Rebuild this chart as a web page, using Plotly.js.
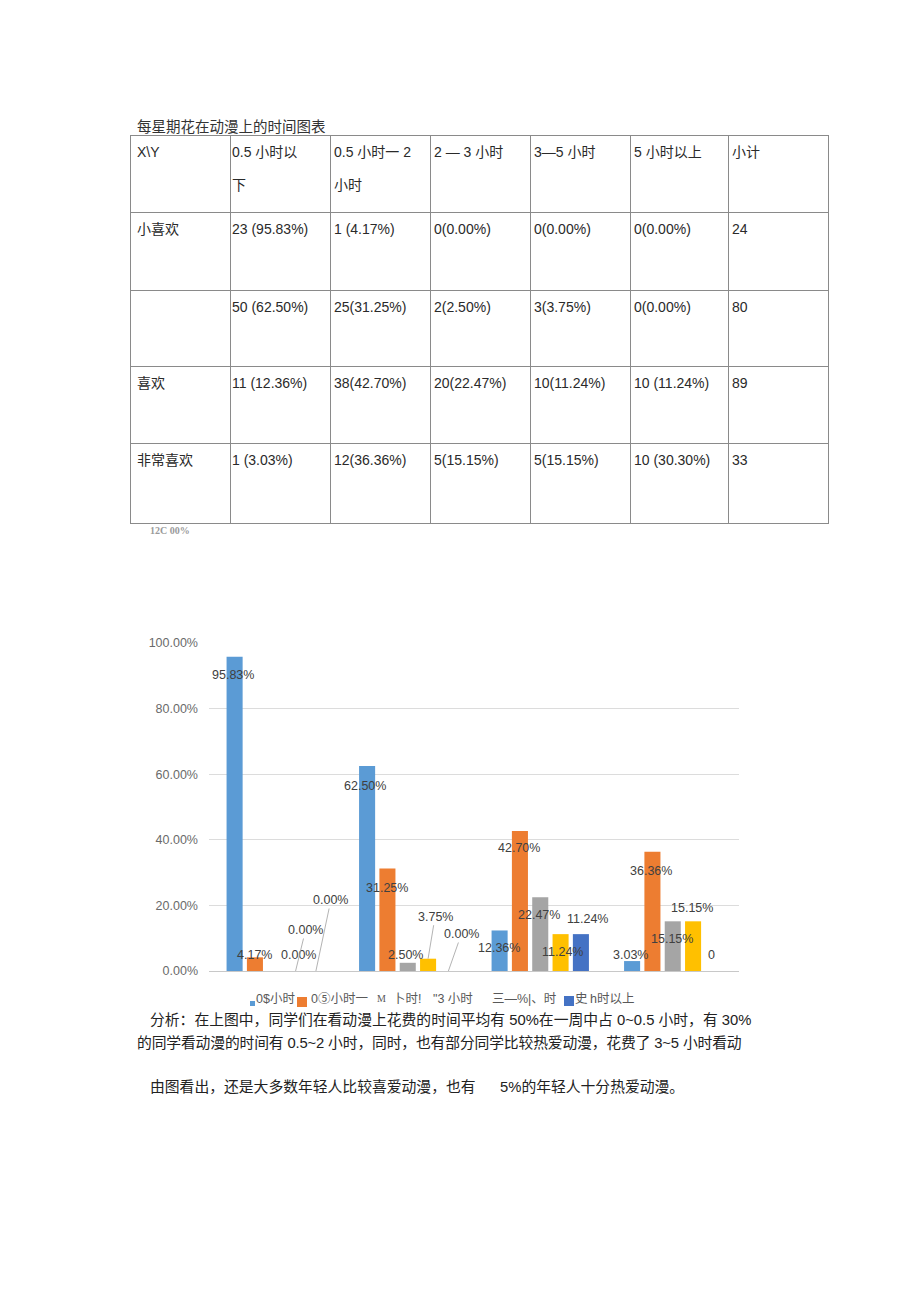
<!DOCTYPE html>
<html>
<head>
<meta charset="utf-8">
<script src="https://cdn.plot.ly/plotly-3.0.1.min.js"></script>
<style>
  body{margin:0;background:#fff;width:920px;height:1303px;position:relative;overflow:hidden;
       font-family:"Liberation Sans","Noto Sans CJK SC",sans-serif;color:#222;}
  .abs{position:absolute;white-space:nowrap;}
  .hl{position:absolute;height:1px;background:#8a8a8a;}
  .vl{position:absolute;width:1px;background:#8a8a8a;}
  .cell{position:absolute;white-space:pre;font-size:14px;line-height:33px;color:#2a2a2a;}
  #chart{position:absolute;left:100px;top:600px;width:700px;height:430px;}
  .lg{position:absolute;top:990px;font-size:12.5px;color:#595959;white-space:nowrap;line-height:18px;}
  .sq{position:absolute;}
  .txt{position:absolute;white-space:nowrap;font-size:14.8px;color:#222;line-height:20px;}
</style>
</head>
<body>
<div class="abs" style="left:137px;top:115px;font-size:14.5px;color:#333;">每星期花在动漫上的时间图表</div>
<div id="table"></div>
<div class="abs" style="left:150px;top:525px;font-size:10px;color:#9a9a9a;font-family:'Liberation Serif',serif;font-weight:bold;">12C 00%</div>
<div id="chart"></div>
<div id="legend"></div>
<div class="txt" style="left:150px;top:1010px;">分析：在上图中，同学们在看动漫上花费的时间平均有 50%在一周中占 0~0.5 小时，有 30%</div>
<div class="txt" style="left:137px;top:1033px;letter-spacing:-0.15px;">的同学看动漫的时间有 0.5~2 小时，同时，也有部分同学比较热爱动漫，花费了 3~5 小时看动</div>
<div class="txt" style="left:150px;top:1077px;">由图看出，还是大多数年轻人比较喜爱动漫，也有</div>
<div class="txt" style="left:500px;top:1077px;">5%的年轻人十分热爱动漫。</div>
<script>
// ---------- table data ----------
var colHeaders = ['X\\Y', '0.5 小时以\n下', '0.5 小时一 2\n小时', '2 — 3 小时', '3—5 小时', '5 小时以上', '小计'];
var rowLabels = ['小喜欢', '', '喜欢', '非常喜欢'];
var rowCells1 = ['23 (95.83%)', '1 (4.17%)', '0(0.00%)', '0(0.00%)', '0(0.00%)', '24'];
var rowCells2 = ['50 (62.50%)', '25(31.25%)', '2(2.50%)', '3(3.75%)', '0(0.00%)', '80'];
var rowCells3 = ['11 (12.36%)', '38(42.70%)', '20(22.47%)', '10(11.24%)', '10 (11.24%)', '89'];
var rowCells4 = ['1 (3.03%)', '12(36.36%)', '5(15.15%)', '5(15.15%)', '10 (30.30%)', '33'];

// ---------- chart data ----------
var categories = [0, 1, 2, 3]; // 不喜欢, 一般, 喜欢, 非常喜欢 (no axis labels shown)
var seriesNames = ['0.5小时以下', '0.5小时-2小时', '2-3小时', '3-5小时', '5小时以上'];
var sUnder05 = [95.83, 62.50, 12.36, 3.03];
var s05to2 = [4.17, 31.25, 42.70, 36.36];
var s2to3 = [0, 2.50, 22.47, 15.15];
var s3to5 = [0, 3.75, 11.24, 15.15];
var s5plus = [0, 0, 11.24, 0];
var yTicks = [0, 20, 40, 60, 80, 100];

// ---------- layout / style (not data) ----------
var colX = [130, 230, 330, 430, 530, 630, 728, 828];
var rowY = [135, 212, 290, 366, 443, 523];
var padX = [7, 2, 4, 4, 4, 4, 4];
var colors = ['#5B9BD5', '#ED7D31', '#A5A5A5', '#FFC000', '#4472C4'];

// build table
(function(){
  var t = document.getElementById('table');
  var html = '';
  colX.forEach(function(x){ html += '<div class="vl" style="left:'+x+'px;top:'+rowY[0]+'px;height:'+(rowY[rowY.length-1]-rowY[0]+1)+'px;"></div>'; });
  rowY.forEach(function(y){ html += '<div class="hl" style="left:'+colX[0]+'px;top:'+y+'px;width:'+(colX[colX.length-1]-colX[0]+1)+'px;"></div>'; });
  var rows = [colHeaders, [rowLabels[0]].concat(rowCells1), [rowLabels[1]].concat(rowCells2),
              [rowLabels[2]].concat(rowCells3), [rowLabels[3]].concat(rowCells4)];
  rows.forEach(function(r, ri){
    r.forEach(function(txt, ci){
      html += '<div class="cell" style="left:'+(colX[ci]+padX[ci])+'px;top:'+(rowY[ri]+1)+'px;">'+txt+'</div>';
    });
  });
  t.innerHTML = html;
})();

// legend (as rendered in the source)
(function(){
  var L = document.getElementById('legend');
  var items = [
    {sq:[250,1001,5,5,colors[0]]},
    {t:'0$小时', x:256},
    {sq:[297,997,10,10,colors[1]]},
    {t:'0⑤小时一', x:311},
    {t:'M', x:377, f:"'Liberation Serif',serif", s:10},
    {t:'卜时!', x:393},
    {t:'"3 小时', x:433},
    {t:'三—%|、时', x:492},
    {sq:[564,996,10,10,colors[4]]},
    {t:'史', x:575},
    {t:'h时以上', x:590}
  ];
  var html='';
  items.forEach(function(it){
    if(it.sq){ html += '<div class="sq" style="left:'+it.sq[0]+'px;top:'+it.sq[1]+'px;width:'+it.sq[2]+'px;height:'+it.sq[3]+'px;background:'+it.sq[4]+';"></div>'; }
    else { html += '<div class="lg" style="left:'+it.x+'px;'+(it.f?'font-family:'+it.f+';':'')+(it.s?'font-size:'+it.s+'px;':'')+'">'+it.t+'</div>'; }
  });
  L.innerHTML = html;
})();

// chart
var seriesVals = [sUnder05, s05to2, s2to3, s3to5, s5plus];
var traces = seriesVals.map(function(v, i){
  return {type:'bar', x:categories, y:v, name:seriesNames[i], marker:{color:colors[i]}, hoverinfo:'none'};
});

// label placement per [category][series]: [xshift, yshift] or arrow {ax, ay}
var labelPos = [
  [[-2,-18],[0,2],[23,16],{ax:10,ay:-41},{ax:15,ay:-71}],
  [[-2,-20],[0,-19],[-2,8],{ax:7,ay:-42},{ax:13,ay:-37}],
  [[-1,-18],[-1,-17],[-1,-18],[2,-18],[7,15]],
  [[-2,6],[-1,-19],[-1,-18],[-1,13],[-2,16]]
];
var bargap = 0.233, groupW = 1 - bargap, nS = 5;
var annotations = [];
categories.forEach(function(c, ci){
  seriesVals.forEach(function(v, si){
    var val = v[ci];
    var txt = (ci === 3 && si === 4) ? '0' : val.toFixed(2) + '%';
    var xc = c + (si - (nS-1)/2) * groupW / nS;
    var p = labelPos[ci][si];
    var a = {x:xc, y:val, xref:'x', yref:'y', text:txt,
             font:{family:'Liberation Sans, sans-serif', size:12.5, color:'#404040'}};
    if (Array.isArray(p)) {
      a.showarrow = false; a.xshift = p[0]; a.yshift = p[1];
    } else {
      a.showarrow = true; a.arrowhead = 0; a.arrowwidth = 0.8; a.arrowcolor = '#a0a0a0';
      a.ax = p.ax; a.ay = p.ay; a.standoff = 0;
    }
    annotations.push(a);
  });
});

var layout = {
  width:700, height:430,
  margin:{l:108.5, r:60.5, t:42, b:59, autoexpand:false},
  paper_bgcolor:'rgba(0,0,0,0)', plot_bgcolor:'rgba(0,0,0,0)',
  barmode:'group', bargap:bargap, bargroupgap:0.21,
  showlegend:false,
  xaxis:{range:[-0.5,3.5], showticklabels:false, showgrid:false, zeroline:false,
         showline:true, linecolor:'#c8c8c8', linewidth:1, ticks:''},
  yaxis:{range:[0,100.3], tickvals:yTicks, ticktext:yTicks.map(function(t){return t.toFixed(2)+'%';}),
         showgrid:true, gridcolor:'#dcdcdc', gridwidth:1, zeroline:false, showline:false, ticks:'',
         ticklabelstandoff:10,
         tickfont:{family:'Liberation Sans, sans-serif', size:12.5, color:'#6a6a6a'}},
  annotations:annotations,
  font:{family:'Liberation Sans, sans-serif'}
};
Plotly.newPlot('chart', traces, layout, {displayModeBar:false, staticPlot:true});
</script>
</body>
</html>
